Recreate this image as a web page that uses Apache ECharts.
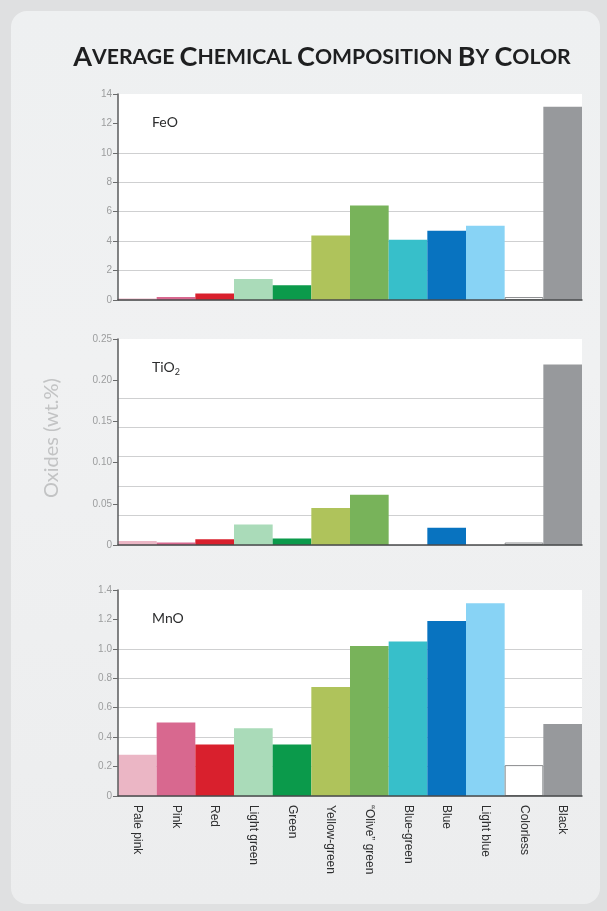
<!DOCTYPE html>
<html>
<head>
<meta charset="utf-8">
<script src="https://cdn.jsdelivr.net/npm/echarts@6/dist/echarts.min.js"></script>
<style>
  html, body { margin: 0; padding: 0; }
  .wrap { position: relative; width: 607px; height: 911px; background: #dfe0e1; overflow: hidden; }
  .panel { position: absolute; left: 11px; top: 11px; width: 589px; height: 893px; border-radius: 16px;
           background: linear-gradient(180deg, #eef0f1 0%, #f0f1f2 40%, #ecedee 100%); }
  #chart { position: absolute; left: 0; top: 0; width: 607px; height: 911px; }
</style>
</head>
<body>
<div class="wrap">
  <div class="panel"></div>
  <div id="chart"></div>
</div>
<script>
// categories (colour groups)
var categories = ['Pale pink', 'Pink', 'Red', 'Light green', 'Green', 'Yellow-green',
  '\u201COlive\u201D green', 'Blue-green', 'Blue', 'Light blue', 'Colorless', 'Black'];

// oxide averages, wt.%
var feoValues  = [0.1, 0.2, 0.45, 1.43, 1.0, 4.38, 6.43, 4.09, 4.7, 5.04, 0.2, 13.14];
var tio2Values = [0.005, 0.003, 0.007, 0.025, 0.008, 0.045, 0.061, 0, 0.021, 0, 0.003, 0.219];
var mnoValues  = [0.28, 0.5, 0.35, 0.46, 0.35, 0.74, 1.02, 1.05, 1.19, 1.31, 0.21, 0.49];

// axis ranges
var feoAxis  = { max: 14,   interval: 2 };
var tio2Axis = { max: 0.25, interval: 0.05 };
var mnoAxis  = { max: 1.4,  interval: 0.2 };

var barColors = ['#ebb6c5', '#d8688f', '#d9202d', '#aadbb9', '#0b9a4b', '#afc35b',
  '#78b35a', '#37bfca', '#0873c0', '#88d3f5', '#ffffff', '#97999c'];

var myChart = echarts.init(document.getElementById('chart'));

var plotLeft = 118, plotRight = 25, plotH = 206;
var tops = [94, 339, 590];
var gridColor = '#cfd0d1';
var splitColors = [gridColor, gridColor, gridColor, gridColor, gridColor, gridColor, 'rgba(0,0,0,0)', 'rgba(0,0,0,0)'];

function barData(values) {
  return values.map(function (v, i) {
    var st = { color: barColors[i] };
    if (categories[i] === 'Colorless') { st.borderColor = '#8a8c8e'; st.borderWidth = 1; }
    return { value: v, itemStyle: st };
  });
}

function valueAxis(gi, ax, fmt) {
  return {
    type: 'value', gridIndex: gi, min: 0, max: ax.max, interval: ax.interval,
    axisLine: { show: true, lineStyle: { color: '#5a5b5c', width: 1.5 } },
    axisTick: { show: true, length: 5, lineStyle: { color: '#6a6b6c' } },
    axisLabel: { color: '#9c9d9e', fontSize: 10, fontFamily: 'Liberation Sans', margin: 6, formatter: fmt },
    splitLine: { show: false }, z: 3
  };
}
function lineAxis(gi) {
  return {
    type: 'value', gridIndex: gi, min: 0, max: 7, interval: 1, position: 'left',
    axisLine: { show: false }, axisTick: { show: false }, axisLabel: { show: false },
    splitLine: { show: true, lineStyle: { color: splitColors, width: 1 } }
  };
}
function catAxis(gi, labels) {
  return {
    type: 'category', gridIndex: gi, data: categories,
    axisLine: { show: true, lineStyle: { color: '#4a4b4c', width: 1.5 } },
    axisTick: { show: false },
    axisLabel: labels ? { show: true, rotate: -90, margin: 9, color: '#2e2f30', fontSize: 12,
      fontFamily: 'Liberation Sans Narrow, Liberation Sans', interval: 0 } : { show: false },
    z: 3
  };
}

var grids = tops.map(function (t) {
  return { left: plotLeft, right: plotRight, top: t, height: plotH, show: true,
           backgroundColor: '#ffffff', borderWidth: 0 };
});

function panelLabel(top, rich, text) {
  var y = top + plotH / 7;
  return {
    type: 'group', children: [
      { type: 'rect', shape: { x: plotLeft + 1, y: y - 3, width: 94, height: 6 }, style: { fill: '#ffffff' }, z: 10 },
      { type: 'text', x: 152, y: y - 1, z: 11,
        style: { text: text, rich: rich, fill: '#2b2c2d', font: '14px Lato', verticalAlign: 'middle' } }
    ]
  };
}
var subRich = { n: { fontSize: 14, fontFamily: 'Lato', fill: '#2b2c2d' },
                s: { fontSize: 9, fontFamily: 'Lato', fill: '#2b2c2d', padding: [9, 0, 0, 0] } };

var options = {
  backgroundColor: 'transparent',
  animation: false,
  grid: grids,
  xAxis: [catAxis(0, false), catAxis(1, false), catAxis(2, true)],
  yAxis: [
    valueAxis(0, feoAxis, null), lineAxis(0),
    valueAxis(1, tio2Axis, function (v) { return v === 0 ? '0' : v.toFixed(2); }), lineAxis(1),
    valueAxis(2, mnoAxis, function (v) { return v === 0 ? '0' : v.toFixed(1); }), lineAxis(2)
  ],
  series: [
    { name: 'FeO', type: 'bar', xAxisIndex: 0, yAxisIndex: 0, barCategoryGap: '0%', data: barData(feoValues), z: 2 },
    { name: 'TiO2', type: 'bar', xAxisIndex: 1, yAxisIndex: 2, barCategoryGap: '0%', data: barData(tio2Values), z: 2 },
    { name: 'MnO', type: 'bar', xAxisIndex: 2, yAxisIndex: 4, barCategoryGap: '0%', data: barData(mnoValues), z: 2 }
  ],
  graphic: [
    { type: 'text', x: 322, y: 57, style: {
        text: '{b|A}{s|VERAGE }{b|C}{s|HEMICAL }{b|C}{s|OMPOSITION }{b|B}{s|Y }{b|C}{s|OLOR}',
        align: 'center', verticalAlign: 'middle',
        rich: { b: { fontSize: 27, fontWeight: 'bold', fontFamily: 'Lato', fill: '#1e1f20' },
                s: { fontSize: 21.2, fontWeight: 'bold', fontFamily: 'Lato', fill: '#1e1f20' } } } },
    { type: 'text', x: 52, y: 438, rotation: Math.PI / 2, style: {
        text: 'Oxides (wt.%)', align: 'center', verticalAlign: 'middle',
        font: '20px Lato', fill: '#c2c3c4' } },
    panelLabel(tops[0], null, 'FeO'),
    panelLabel(tops[1], subRich, '{n|TiO}{s|2}'),
    panelLabel(tops[2], null, 'MnO')
  ]
};

myChart.setOption(options);
</script>
</body>
</html>
